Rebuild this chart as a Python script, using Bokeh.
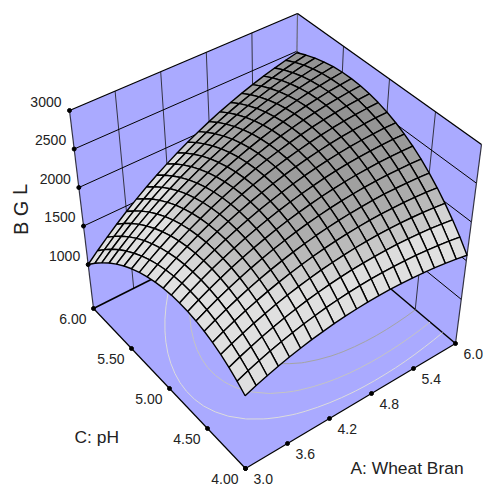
import numpy as np
from bokeh.plotting import figure
from bokeh.models import Range1d
from bokeh.core.properties import value
from bokeh.embed import file_html
from bokeh.resources import INLINE

a_ticks=[3.0,3.6,4.2,4.8,5.4,6.0]
c_ticks=[4.0,4.5,5.0,5.5,6.0]
z_ticks=[1000,1500,2000,2500,3000]
contour_levels=[1800,2000,2200]
wheat_bran=[3.0,3.15,3.3,3.45,3.6,3.75,3.9,4.05,4.2,4.35,4.5,4.65,4.8,4.95,5.1,5.25,5.4,5.55,5.7,5.85,6.0]
ph=[4.0,4.1,4.2,4.3,4.4,4.5,4.6,4.7,4.8,4.9,5.0,5.1,5.2,5.3,5.4,5.5,5.6,5.7,5.8,5.9,6.0]
# BGL, one row per wheat_bran value, one column per ph value
bgl=[
[1351,1436,1510,1574,1627,1669,1700,1720,1729,1728,1716,1693,1659,1615,1560,1494,1417,1329,1230,1121,1001],
[1402,1490,1567,1634,1690,1735,1769,1793,1805,1807,1798,1778,1748,1707,1654,1591,1518,1433,1338,1232,1115],
[1448,1540,1620,1690,1749,1797,1835,1861,1877,1882,1876,1860,1832,1794,1745,1685,1615,1533,1441,1338,1224],
[1491,1585,1669,1742,1804,1855,1896,1926,1945,1953,1950,1937,1912,1877,1832,1775,1707,1629,1540,1440,1330],
[1529,1626,1713,1789,1855,1909,1953,1986,2008,2019,2020,2009,1988,1956,1914,1860,1796,1721,1635,1538,1431],
[1563,1664,1754,1833,1901,1959,2006,2042,2067,2082,2085,2078,2060,2031,1992,1941,1880,1808,1726,1632,1528],
[1593,1697,1790,1872,1944,2005,2055,2094,2122,2140,2147,2143,2128,2102,2066,2019,1961,1892,1812,1722,1621],
[1618,1725,1822,1907,1982,2046,2099,2141,2173,2194,2204,2203,2191,2169,2135,2091,2037,1971,1894,1807,1709],
[1640,1750,1849,1938,2016,2083,2139,2185,2220,2243,2257,2259,2250,2231,2201,2160,2108,2046,1973,1888,1794],
[1657,1770,1873,1965,2046,2116,2175,2224,2262,2289,2305,2311,2305,2289,2262,2224,2176,2117,2046,1965,1874],
[1670,1786,1892,1987,2071,2145,2207,2259,2300,2330,2350,2358,2356,2343,2319,2285,2239,2183,2116,2038,1950],
[1679,1798,1907,2005,2093,2169,2235,2290,2334,2368,2390,2402,2403,2393,2372,2341,2299,2246,2182,2107,2022],
[1683,1806,1918,2020,2110,2190,2259,2317,2364,2401,2426,2441,2445,2439,2421,2393,2354,2304,2243,2172,2089],
[1684,1810,1925,2030,2123,2206,2278,2339,2390,2429,2458,2476,2484,2480,2466,2441,2405,2358,2300,2232,2153],
[1680,1809,1928,2035,2132,2218,2293,2358,2411,2454,2486,2507,2518,2517,2506,2484,2451,2408,2353,2288,2212],
[1672,1805,1926,2037,2137,2226,2304,2372,2429,2475,2510,2534,2548,2550,2542,2523,2494,2453,2402,2340,2267],
[1660,1796,1920,2034,2137,2230,2311,2382,2442,2491,2529,2557,2573,2579,2574,2559,2532,2495,2447,2388,2318],
[1644,1783,1910,2027,2134,2229,2314,2388,2451,2503,2544,2575,2595,2604,2602,2590,2566,2532,2487,2431,2365],
[1623,1765,1896,2016,2126,2224,2312,2389,2455,2511,2555,2589,2612,2624,2626,2616,2596,2565,2523,2471,2407],
[1599,1744,1878,2001,2114,2216,2307,2387,2456,2515,2562,2599,2625,2641,2645,2639,2622,2594,2556,2506,2446],
[1570,1718,1855,1982,2098,2203,2297,2380,2452,2514,2565,2605,2634,2653,2661,2658,2644,2619,2583,2537,2480],
]
FLOOR=430
A=np.array(wheat_bran); C=np.array(ph); Z=np.array(bgl,float)
AA,CC=np.meshgrid(A,C,indexing="ij")
N=len(A)-1

TOP={(3,6):(69,110),(6,6):(297,13),(6,4):(481,144),(3,4):(244,265)}
BOT={(3,6):(93,308),(6,6):(294,207),(6,4):(455,343),(3,4):(245,468)}
def proj(a,c,z):
    a,c,z=np.asarray(a,float),np.asarray(c,float),np.asarray(z,float)
    u=(a-3)/3; v=(c-4)/2; w=(z-FLOOR)/(3000-FLOOR)
    def bl(D,k):
        return (1-u)*(1-v)*D[(3,4)][k]+u*(1-v)*D[(6,4)][k]+u*v*D[(6,6)][k]+(1-u)*v*D[(3,6)][k]
    return (1-w)*bl(BOT,0)+w*bl(TOP,0),(1-w)*bl(BOT,1)+w*bl(TOP,1)

p=figure(width=483,height=486,output_backend="svg",toolbar_location=None,
         x_range=Range1d(0,483),y_range=Range1d(486,0),min_border=0,outline_line_color=None,
         x_axis_type=None,y_axis_type=None,background_fill_color="white")
p.grid.visible=False
BLUE="#aaaaff"
def poly(pts,**k):
    x,y=proj(*zip(*pts)); p.patch(list(x),list(y),**k)
def seg(p0,p1,**k):
    x,y=proj(*zip(p0,p1)); p.line(list(x),list(y),**k)
poly([(3,6,FLOOR),(6,6,FLOOR),(6,6,3000),(3,6,3000)],fill_color=BLUE,line_color=None)
poly([(6,4,FLOOR),(6,6,FLOOR),(6,6,3000),(6,4,3000)],fill_color=BLUE,line_color=None)
poly([(3,4,FLOOR),(6,4,FLOOR),(6,6,FLOOR),(3,6,FLOOR)],fill_color=BLUE,line_color=None)
G="#333344"
for a in a_ticks[1:-1]: seg((a,6,FLOOR),(a,6,3000),line_color=G,line_width=1)
for c in c_ticks[1:-1]: seg((6,c,FLOOR),(6,c,3000),line_color=G,line_width=1)
for z in z_ticks[:-1]:
    seg((3,6,z),(6,6,z),line_color="black",line_width=1)
    seg((6,6,z),(6,4,z),line_color="black",line_width=1)
seg((3,6,FLOOR),(3,6,3000),line_color=G,line_width=1.2)
seg((6,6,FLOOR),(6,6,3000),line_color="#666677",line_width=1.2)
seg((6,4,FLOOR),(6,4,3000),line_color=G,line_width=1.2)
seg((3,6,3000),(6,6,3000),line_color="black",line_width=1.3)
seg((6,6,3000),(6,4,3000),line_color="black",line_width=1.3)
seg((3,6,FLOOR),(6,6,FLOOR),line_color="black",line_width=1.5)
seg((6,6,FLOOR),(6,4,FLOOR),line_color="black",line_width=1.5)
seg((3,6,FLOOR),(3,4,FLOOR),line_color="black",line_width=1.2)
seg((3,4,FLOOR),(6,4,FLOOR),line_color="black",line_width=1.2)

for lev,col in zip(contour_levels,["#dcdcdc","#c4c4c4","#a4a4a4"]):
    xs=[];ys=[]
    for i in range(N):
        for j in range(N):
            cell=[(i,j),(i+1,j),(i+1,j+1),(i,j+1)]
            pts=[]
            for k in range(4):
                u,v=cell[k],cell[(k+1)%4]
                zu,zv=Z[u],Z[v]
                if (zu-lev)*(zv-lev)<0:
                    t=(lev-zu)/(zv-zu)
                    pts.append((AA[u]+t*(AA[v]-AA[u]),CC[u]+t*(CC[v]-CC[u])))
            if len(pts)==2:
                x,y=proj([pts[0][0],pts[1][0]],[pts[0][1],pts[1][1]],[FLOOR,FLOOR])
                xs.append(list(x));ys.append(list(y))
    p.multi_line(xs,ys,line_color=col,line_width=1)

X,Y=proj(AA,CC,Z)
def gray(z):
    g=int(np.interp(z,[1850,1900,2000,2100,2200,2300,2400,2500,2650],[224,218,195,180,170,163,156,150,146]))
    return "#%02x%02x%02x"%(g,g,g)
xs=[];ys=[];cols=[]
for i in range(N-1,-1,-1):
    for j in range(N-1,-1,-1):
        xs.append([X[i,j],X[i+1,j],X[i+1,j+1],X[i,j+1]])
        ys.append([Y[i,j],Y[i+1,j],Y[i+1,j+1],Y[i,j+1]])
        cols.append(gray((Z[i,j]+Z[i+1,j]+Z[i+1,j+1]+Z[i,j+1])/4))
p.patches(xs,ys,fill_color=cols,line_color="black",line_width=1.4)

F=value("Liberation Sans")
S="14px"
tx,ty=[],[]
x,y=proj([3]*5,[6]*5,z_ticks); tx+=list(x);ty+=list(y)
p.text(list(x-8),list(y-9),text=[str(z) for z in z_ticks],text_font=F,text_font_size=S,text_align="right",text_baseline="middle",text_color="#222222")
x,y=proj(a_ticks,[4]*6,[FLOOR]*6); tx+=list(x);ty+=list(y)
p.text(list(x+8),list(y+10),text=["%.1f"%a for a in a_ticks],text_font=F,text_font_size=S,text_align="left",text_baseline="middle",text_color="#222222")
x,y=proj([3]*5,c_ticks,[FLOOR]*5); tx+=list(x);ty+=list(y)
p.text(list(x-7),list(y+10),text=["%.2f"%c for c in c_ticks],text_font=F,text_font_size=S,text_align="right",text_baseline="middle",text_color="#222222")
p.scatter(tx,ty,size=4,color="black")
p.text([350],[467],text=["A: Wheat Bran"],text_font=F,text_font_size="17.4px",text_baseline="middle",text_color="#222222")
p.text([74],[436],text=["C: pH"],text_font=F,text_font_size="17.4px",text_baseline="middle",text_color="#222222")
p.text([20],[209],text=["B G L"],text_font=F,text_font_size="20px",text_align="center",text_baseline="middle",angle=[np.pi/2],text_color="#222222")
open("out.html","w").write(file_html(p,INLINE))
